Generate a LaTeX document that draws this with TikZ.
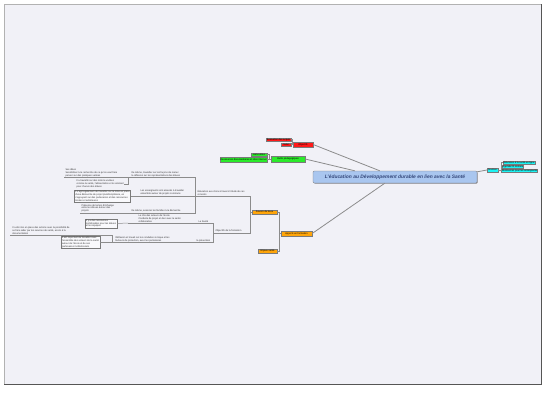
\documentclass[tikz,border=0pt]{standalone}
\usepackage{fontspec}
\setmainfont{Liberation Sans}
\usetikzlibrary{shadows,calc}

\definecolor{paper}{HTML}{F1F1F7}
\definecolor{framecol}{HTML}{555555}
\definecolor{linegray}{HTML}{8C8C8C}
\definecolor{boxgray}{HTML}{7A7A7A}
\definecolor{txtgray}{HTML}{333333}
\definecolor{titleblue}{HTML}{A9C6EF}
\definecolor{titletext}{HTML}{34477A}
\definecolor{redtopic}{HTML}{FF1A1A}
\definecolor{greentopic}{HTML}{2BEA2B}
\definecolor{orangetopic}{HTML}{FFA50A}
\definecolor{cyantopic}{HTML}{1EF2F2}

\begin{document}
\begin{tikzpicture}[x=1pt, y=-1pt,
tinytext/.style={font=\fontsize{2.4}{2.8}\selectfont, text=txtgray},
label/.style={tinytext, align=left, inner sep=0.3pt, anchor=south west},
textbox/.style={tinytext, align=left, draw=boxgray, fill=paper!40!white, inner sep=0.8pt, line width=0.4pt,
  drop shadow={shadow xshift=0.7pt, shadow yshift=-0.7pt, fill=black, opacity=0.35}},
topic/.style={tinytext, text=black, draw=boxgray, line width=0.3pt, inner sep=0.3pt, minimum height=3.6pt},
branch/.style={draw=linegray, line width=0.8pt},
twig/.style={draw=linegray, line width=0.5pt}]

% page
\fill[white] (0,0) rectangle (545,393);
\useasboundingbox (0,0) rectangle (545,393);
\fill[paper] (4,4) rectangle (541,384);
\draw[gray!60, line width=0.4pt] (4,384) -- (4,4) -- (541,4);
\draw[framecol, line width=0.7pt] (4,384) -- (541,384) -- (541,4);

% central topic
\node[draw=boxgray, fill=titleblue, rounded corners=1.2pt, minimum width=164pt, minimum height=12pt, inner sep=0pt,
  font=\fontsize{4.9}{5}\selectfont\bfseries\itshape, text=titletext,
  drop shadow={shadow xshift=0.8pt, shadow yshift=-0.8pt, fill=black, opacity=0.3}]
  (dd) at (395,177) {L'éducation au Développement durable en lien avec la Santé};

% main topics
\node[topic, fill=redtopic, minimum width=20pt, minimum height=5pt] (obj) at (303,144.5) {Objectifs};
\node[topic, fill=redtopic, minimum width=25pt] (evalu) at (278.5,139.5) {Évaluation des acquis};
\node[topic, fill=redtopic, minimum width=10pt] (suivi) at (286,144.5) {Suivi};

\node[topic, fill=greentopic, minimum width=34pt, minimum height=6pt] (outils) at (288,159) {Outils pédagogiques};
\node[topic, fill=greentopic, minimum width=16pt] (liens) at (259,154.5) {Liens utiles};
\node[topic, fill=greentopic, minimum width=47pt, minimum height=5pt] (ressdoc) at (243.5,159.5) {Ressources documentaires et sites internet};

\node[topic, fill=orangetopic, minimum width=31pt, minimum height=5pt] (apports) at (296.5,233.5) {Apports en formation};
\node[topic, fill=orangetopic, minimum width=25pt] (savoirs) at (264.5,212) {Savoirs de base};
\node[topic, fill=orangetopic, minimum width=19pt] (enjeux) at (267.5,251) {Enjeux santé};

\node[topic, fill=cyantopic, minimum width=11pt, minimum height=4.5pt] (sources) at (492.5,170) {Sources};
\node[topic, fill=cyantopic, minimum width=32pt] (cyana) at (519,162.5) {Éducation à la santé en ligne};
\node[topic, fill=cyantopic, minimum width=20pt] (cyanb) at (513,166.5) {Agenda 21 scolaire};
\node[topic, fill=cyantopic, minimum width=33pt] (cyanc) at (519.5,170.5) {Ressources pour les enseignants};

% branches to the centre
\draw[branch] (obj.east) -- ([xshift=67pt]dd.north west);
\draw[branch] (outils.east) -- ([xshift=42pt]dd.north west);
\draw[branch] (apports.east) -- ([xshift=72pt]dd.south west);
\draw[branch] (sources.west) -- ([yshift=-1pt]dd.north east);

% forks of the main topics
\coordinate (objfork) at (292,144.5);
\coordinate (outfork) at (269,159);
\coordinate (appfork) at (279.5,233.5);
\coordinate (srcfork) at (501,170);
\draw[twig] (obj.west) -- (suivi.east);
\draw[twig] (evalu.east) -| (objfork);
\draw[twig] (outils.west) -- (outfork) |- (liens.east);
\draw[twig] (outfork) |- (ressdoc.east);
\draw[twig] (apports.west) -- (appfork) |- (savoirs.east);
\draw[twig] (appfork) |- (enjeux.east);
\draw[twig] (sources.east) -- (srcfork) |- (cyana.west);
\draw[twig] (srcfork) |- (cyanb.west);
\draw[twig] (srcfork) |- (cyanc.west);

% left tree: labels
\node[label] (choix) at (197,195.6) {Éducation aux choix à travers l'étude de cas\\concrets};
\node[label] (objform) at (215,232.6) {Objectifs de la formation};

\node[label] (sesidees) at (65,177.1) {Ses idées\\Sensibiliser à la recherche de ce qu'on veut faire\\penser sur des pratiques variées};
\node[label] (a1lbl) at (131,177.1) {De même, travailler sur les façons de mener\\la réflexion sur les représentations des élèves};
\node[tinytext, align=left, inner sep=0.3pt, anchor=north west] (travail) at (76,179.5) {Il a travaillé sur des notions variées\\comme la santé, l'alimentation et le sommeil\\pour chacun des élèves};
\node[textbox] (a2box) at (102.5,196) {Il s'agit également de travailler sur la mise en place\\d'une démarche de projet pluridisciplinaire, en\\s'appuyant sur des partenaires et des ressources\\locales et extérieures};
\node[label] (a2lbl) at (140,195.6) {Les enseignants sont amenés à travailler\\ensemble autour de projets communs};
\node[label] (presence) at (81,212.6) {Présence de temps d'échange\\entre les élèves autour des\\projets};
\node[label] (a3lbl) at (131,212.6) {De même, associer les familles à la démarche};

\node[label] (sante) at (198,222.6) {La Santé};
\node[label] (roles) at (138,222.6) {Le rôle des acteurs de l'école\\Conduite de projet en lien avec la santé\\collaborative};
\node[textbox] (b1box) at (101,223.5) {Il y a des ressources\\mobilisables pour les élèves\\et les équipes};
\node[label] (prev) at (196,242.1) {la prévention};
\node[label] (reflex) at (115,242.1) {Réflexion et travail sur les conduites à risque et les\\facteurs de protection, avec les partenaires};
\node[label] (ilfaut) at (12,234.6) {Il a été mis en place des actions avec la possibilité de\\se faire aider par les services de santé, accès à la\\documentation};
\node[textbox] (b2box) at (80.5,242.5) {Il est important de travailler avec\\l'ensemble des acteurs de la santé\\autour de l'école et de ses\\partenaires institutionnels};

% left tree: connectors
\coordinate (savfork) at (250.5,212);
\coordinate (afork) at (195,196);
\coordinate (bfork) at (213,233);
\coordinate (a1w) at (64,177.5);
\coordinate (a1e) at (195,177.5);
\coordinate (a1fork) at (128,177.5);
\coordinate (a3w) at (80,213);
\coordinate (a3e) at (195,213);
\coordinate (b1w) at (128,223);
\coordinate (b1e) at (213,223);
\coordinate (b2w) at (112,242.5);
\coordinate (b2e) at (213,242.5);
\coordinate (tw) at (10,235);
\coordinate (tj) at (112,235);

\draw[twig] (savoirs.west) -- (savfork);
\draw[twig] (afork) -| (savfork) |- (bfork);
\draw[twig] (a1w) -- (a1e) -- (a3e) -- (a3w);
\draw[twig] (travail.east) -| (a1fork);
\draw[twig] (a2box.east) -- (afork);
\draw[twig] (b1w) -- (b1e) -- (b2e) -- (b2w);
\draw[twig] (b1box.east) -- (b1w);
\draw[twig] (tw) -- (tj) -- (b2w);
\draw[twig] (b2box.east) -- (b2w);
\end{tikzpicture}
\end{document}
